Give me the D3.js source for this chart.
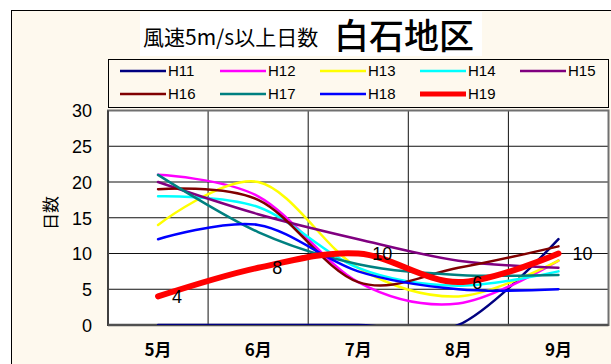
<!DOCTYPE html>
<html>
<head>
<meta charset="utf-8">
<script src="https://cdn.jsdelivr.net/npm/d3@7"></script>
<style>
  html, body { margin: 0; padding: 0; background: #ffffff; }
  svg { display: block; }
  text { font-family: "Noto Sans CJK JP", "Liberation Sans", sans-serif; fill: #000; }
</style>
</head>
<body>
<svg id="chart" width="611" height="364"></svg>
<script>
// Months on the category axis
const months = ["5月", "6月", "7月", "8月", "9月"];

// Days per month with wind speed of 5 m/s or more, one array per fiscal year
const h11 = [0, 0, 0, 0, 12];
const h12 = [21, 18, 6, 3, 9];
const h13 = [14, 20, 8, 4, 9];
const h14 = [18, 16.5, 8, 5.5, 7.5];
const h15 = [20, 15.5, 12, 9, 8];
const h16 = [19, 17.5, 6, 8, 11];
const h17 = [21, 13, 8.5, 7, 7];
const h18 = [12, 14, 7.5, 5, 5];
const h19 = [4, 8, 10, 6, 10];

const seriesNames = ["H11", "H12", "H13", "H14", "H15", "H16", "H17", "H18", "H19"];
const seriesValues = [h11, h12, h13, h14, h15, h16, h17, h18, h19];
const seriesColors = ["#000080", "#ff00ff", "#ffff00", "#00ffff", "#800080",
                      "#800000", "#008080", "#0000ff", "#ff0000"];

// Value-axis ticks
const yTicks = [0, 5, 10, 15, 20, 25, 30];

const titleSmall = "風速5m/s以上日数";
const titleLarge = "白石地区";
const yTitle = "日数";

const svg = d3.select("#chart");

// Outer chart frame on a cream background
svg.append("rect").attr("x", 0).attr("y", 0).attr("width", 611).attr("height", 364).attr("fill", "#ffffff");
svg.append("rect")
  .attr("x", 11.5).attr("y", 10.5).attr("width", 620).attr("height", 400)
  .attr("fill", "#fef9ee").attr("stroke", "#000").attr("stroke-width", 1);

// Plot area geometry
const plot = { left: 108, right: 608.5, top: 110.5, bottom: 325 };

const x = d3.scaleBand().domain(months).range([plot.left, plot.right]).padding(0);
const y = d3.scaleLinear().domain([0, 30]).range([plot.bottom, plot.top]);
const cx = m => x(m) + x.bandwidth() / 2;

// White plot background
svg.append("rect")
  .attr("x", plot.left).attr("y", plot.top)
  .attr("width", plot.right - plot.left).attr("height", plot.bottom - plot.top)
  .attr("fill", "#ffffff");

// Horizontal gridlines
svg.append("g").selectAll("line")
  .data(yTicks.filter(t => t > 0 && t < 30))
  .join("line")
  .attr("x1", plot.left).attr("x2", plot.right)
  .attr("y1", d => y(d)).attr("y2", d => y(d))
  .attr("stroke", "#111").attr("stroke-width", 1);

// Vertical gridlines at category boundaries
svg.append("g").selectAll("line")
  .data(months.slice(1))
  .join("line")
  .attr("x1", d => x(d)).attr("x2", d => x(d))
  .attr("y1", plot.top).attr("y2", plot.bottom)
  .attr("stroke", "#111").attr("stroke-width", 1);

// Plot border
svg.append("rect")
  .attr("x", plot.left).attr("y", plot.top)
  .attr("width", plot.right - plot.left).attr("height", plot.bottom - plot.top)
  .attr("fill", "none").attr("stroke", "#707070").attr("stroke-width", 2);
svg.append("line")
  .attr("x1", plot.left).attr("x2", plot.left)
  .attr("y1", plot.top).attr("y2", plot.bottom + 1)
  .attr("stroke", "#404040").attr("stroke-width", 2);
svg.append("line")
  .attr("x1", plot.left).attr("x2", plot.right)
  .attr("y1", plot.bottom).attr("y2", plot.bottom)
  .attr("stroke", "#505050").attr("stroke-width", 2.5);

// Y axis labels
const yAxis = d3.axisLeft(y).tickValues(yTicks).tickSize(0).tickPadding(0);
const yG = svg.append("g").attr("transform", `translate(${plot.left - 16},0)`).call(yAxis);
yG.select(".domain").remove();
yG.selectAll("text")
  .attr("font-size", 18)
  .attr("dy", "0.36em")
  .style("font-family", '"Liberation Sans", sans-serif')
  .attr("fill", "#000");

// X axis labels
const xAxis = d3.axisBottom(x).tickSize(0).tickPadding(0);
const xG = svg.append("g").attr("transform", `translate(0,${plot.bottom + 19})`).call(xAxis);
xG.select(".domain").remove();
xG.selectAll("text")
  .attr("font-size", 17)
  .attr("font-weight", "bold")
  .attr("dy", "0.71em")
  .attr("fill", "#000");

// Y axis title
svg.append("text")
  .attr("transform", "translate(51,213) rotate(-90)")
  .attr("text-anchor", "middle")
  .attr("dy", "0.36em")
  .attr("font-size", 17)
  .text(yTitle);

// Clip series to the plot area
svg.append("clipPath").attr("id", "plotClip")
  .append("rect")
  .attr("x", plot.left).attr("y", plot.top)
  .attr("width", plot.right - plot.left).attr("height", plot.bottom - plot.top);

const line = d3.line()
  .x((d, i) => cx(months[i]))
  .y(d => y(d))
  .curve(d3.curveCardinal.tension(0));

const series = seriesNames.map((name, i) => ({ name, values: seriesValues[i], color: seriesColors[i] }));

svg.append("g").attr("clip-path", "url(#plotClip)")
  .selectAll("path")
  .data(series)
  .join("path")
  .attr("d", d => line(d.values))
  .attr("fill", "none")
  .attr("stroke", d => d.color)
  .attr("stroke-width", d => d.name === "H19" ? 6 : 2.5)
  .attr("stroke-linecap", "round")
  .attr("stroke-linejoin", "round");

// Value labels on the H19 line
svg.append("g").selectAll("text")
  .data(h19)
  .join("text")
  .attr("x", (d, i) => cx(months[i]) + 14)
  .attr("y", d => y(d))
  .attr("dy", "0.36em")
  .attr("font-size", 18)
  .style("font-family", '"Liberation Sans", sans-serif')
  .text(d => d);

// Title on a white panel
svg.append("rect")
  .attr("x", 140).attr("y", 12).attr("width", 342).attr("height", 44)
  .attr("fill", "#ffffff");
svg.append("text")
  .attr("x", 143).attr("y", 45)
  .attr("font-size", 21)
  .text(titleSmall);
svg.append("text")
  .attr("x", 334).attr("y", 49)
  .attr("font-size", 35)
  .attr("font-weight", "500")
  .text(titleLarge);

// Legend
const legend = { left: 108.5, top: 59.5, width: 500, height: 48 };
svg.append("rect")
  .attr("x", legend.left).attr("y", legend.top)
  .attr("width", legend.width).attr("height", legend.height)
  .attr("fill", "#fef9ee").attr("stroke", "#000").attr("stroke-width", 1);

const legendItems = svg.append("g").selectAll("g")
  .data(series)
  .join("g")
  .attr("transform", (d, i) => `translate(${120 + (i % 5) * 100},${i < 5 ? 71 : 94})`);
legendItems.append("line")
  .attr("x1", 0).attr("x2", 46)
  .attr("stroke", d => d.color)
  .attr("stroke-width", d => d.name === "H19" ? 5 : 2.5);
legendItems.append("text")
  .attr("x", 48)
  .attr("dy", "0.36em")
  .attr("font-size", 15)
  .style("font-family", '"Liberation Sans", sans-serif')
  .text(d => d.name);
</script>
</body>
</html>
